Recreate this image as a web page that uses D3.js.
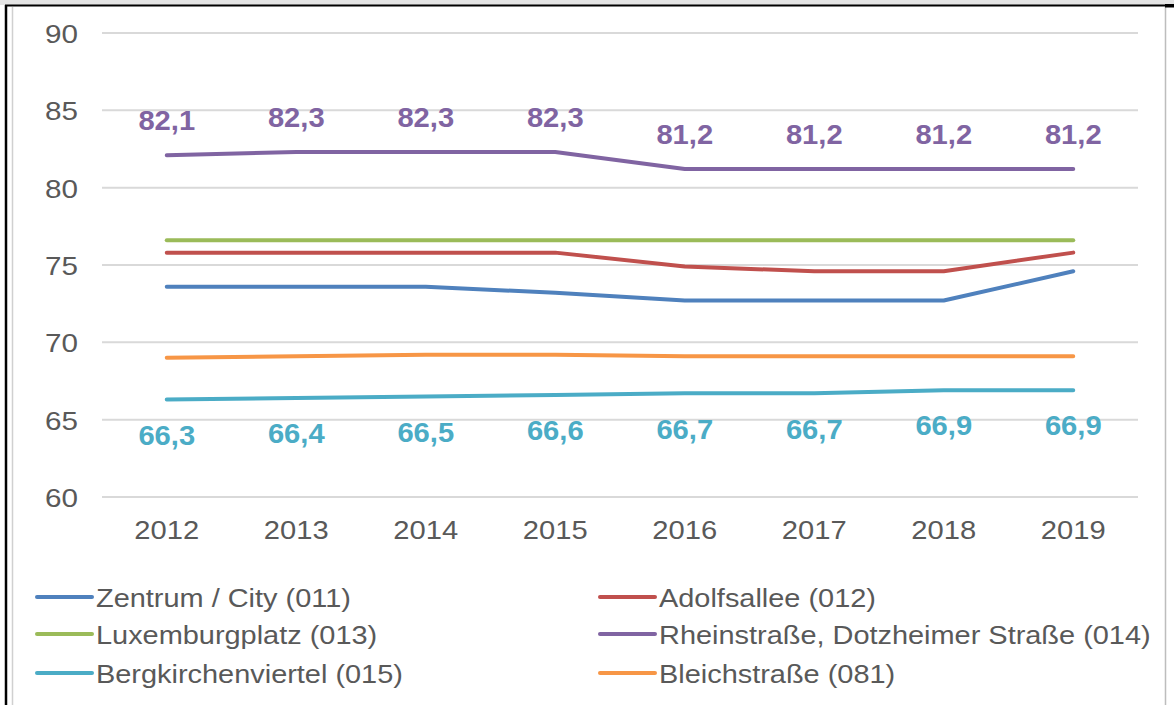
<!DOCTYPE html>
<html><head><meta charset="utf-8">
<script src="https://cdn.jsdelivr.net/npm/d3@7"></script>
<style>html,body{margin:0;padding:0;background:#fff;}svg{display:block;}</style>
</head><body>
<script>
const years = ["2012","2013","2014","2015","2016","2017","2018","2019"];
const yTicks = [60,65,70,75,80,85,90];
const seriesNames = ["Zentrum / City (011)","Adolfsallee (012)","Luxemburgplatz (013)","Rheinstraße, Dotzheimer Straße (014)","Bergkirchenviertel (015)","Bleichstraße (081)"];
const zentrum = [73.6,73.6,73.6,73.2,72.7,72.7,72.7,74.6];
const adolfsallee = [75.8,75.8,75.8,75.8,74.9,74.6,74.6,75.8];
const luxemburgplatz = [76.6,76.6,76.6,76.6,76.6,76.6,76.6,76.6];
const rheinstrasse = [82.1,82.3,82.3,82.3,81.2,81.2,81.2,81.2];
const bergkirchen = [66.3,66.4,66.5,66.6,66.7,66.7,66.9,66.9];
const bleichstrasse = [69.0,69.1,69.2,69.2,69.1,69.1,69.1,69.1];
const colors = ["#4F81BD","#C0504D","#9BBB59","#8064A2","#4BACC6","#F79646"];
const seriesValues = [zentrum, adolfsallee, luxemburgplatz, rheinstrasse, bergkirchen, bleichstrasse];

const W = 1174, H = 705;
const svg = d3.select("body").append("svg").attr("width", W).attr("height", H);
const font = "'Liberation Sans', Arial, sans-serif";

// frame
svg.append("rect").attr("x",0).attr("y",0).attr("width",W).attr("height",5).attr("fill","#E4E4E4");
svg.append("line").attr("x1",5).attr("x2",W).attr("y1",5.5).attr("y2",5.5).attr("stroke","#000").attr("stroke-width",2);
svg.append("line").attr("x1",6).attr("x2",6).attr("y1",5).attr("y2",H).attr("stroke","#000").attr("stroke-width",2.5);
svg.append("line").attr("x1",12.5).attr("x2",12.5).attr("y1",7).attr("y2",H).attr("stroke","#D0D0D0").attr("stroke-width",1.5);
svg.append("line").attr("x1",1165.5).attr("x2",1165.5).attr("y1",7).attr("y2",H).attr("stroke","#BDBDBD").attr("stroke-width",1.5);
svg.append("rect").attr("x",1165).attr("y",4).attr("width",9).attr("height",3.5).attr("fill","#000");

const x = d3.scalePoint().domain(years).range([102,1138]).padding(0.5);
const y = d3.scaleLinear().domain([60,90]).range([497,33]);

function txt(g, tx, ty, s, opts) {
  const sx = opts.sx || 1.1;
  const t = g.append("text").attr("transform", `translate(${tx},${ty}) scale(${sx},1)`)
    .attr("font-family", font).attr("font-size", opts.size).attr("fill", opts.fill)
    .attr("text-anchor", opts.anchor || "middle").attr("dominant-baseline", "central")
    .text(s);
  if (opts.bold) t.attr("font-weight", "bold");
  return t;
}

// grid
const grid = svg.append("g");
grid.selectAll("line").data(yTicks).join("line")
  .attr("x1",102).attr("x2",1138).attr("y1",d=>y(d)).attr("y2",d=>y(d))
  .attr("stroke","#D9D9D9").attr("stroke-width",2);

// y tick labels
const yl = svg.append("g");
yTicks.forEach(v => txt(yl, 78, y(v)+1, String(v), {size:26.5, sx:1.12, fill:"#595959", anchor:"end"}));
// x tick labels
const xl = svg.append("g");
years.forEach(v => txt(xl, x(v), 530, v, {size:26.5, sx:1.1, fill:"#595959"}));

// lines
const line = d3.line().x((d,i)=>x(years[i])).y(d=>y(d));
const lg = svg.append("g");
[2,1,0,5,4,3].forEach(k => {
  lg.append("path").attr("d", line(seriesValues[k])).attr("fill","none")
    .attr("stroke", colors[k]).attr("stroke-width",4).attr("stroke-linecap","round").attr("stroke-linejoin","round");
});

// data labels
const dl = svg.append("g");
rheinstrasse.forEach((v,i) => txt(dl, x(years[i]), y(v)-34, v.toFixed(1).replace(".",","), {size:27, sx:1.08, fill:colors[3], bold:true}));
bergkirchen.forEach((v,i) => txt(dl, x(years[i]), y(v)+36, v.toFixed(1).replace(".",","), {size:27, sx:1.08, fill:colors[4], bold:true}));

// legend
const leg = svg.append("g");
const rowsY = [597, 634, 673];
const colX = [37, 600];
seriesNames.forEach((n,i) => {
  const cx = colX[i%2], cy = rowsY[Math.floor(i/2)];
  leg.append("line").attr("x1",cx).attr("x2",cx+55).attr("y1",cy).attr("y2",cy)
    .attr("stroke",colors[i]).attr("stroke-width",4).attr("stroke-linecap","round");
  txt(leg, cx+59, cy+1, n, {size:26.3, sx:1.1, fill:"#595959", anchor:"start"});
});
</script>
</body></html>
